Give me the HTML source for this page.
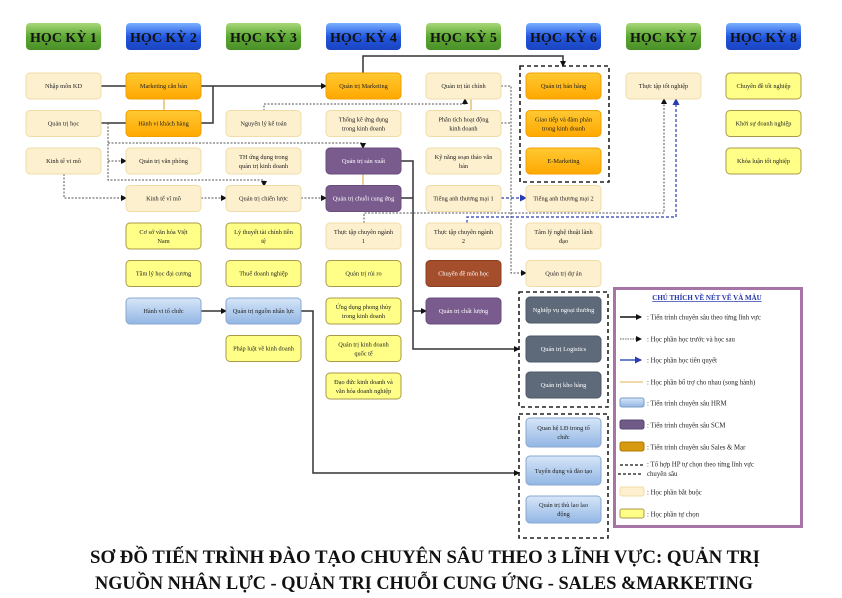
<!DOCTYPE html>
<html><head><meta charset="utf-8"><style>
html,body{margin:0;padding:0;background:#fff;}
svg{display:block;font-family:"Liberation Serif",serif;}
.t{font-size:6.3px;fill:#222;text-anchor:middle;}
.tw{font-size:6.3px;fill:#fff;text-anchor:middle;}
.h{font-size:14px;font-weight:bold;fill:#111;text-anchor:middle;}
.lg{font-size:6.8px;fill:#222;}
</style></head><body>
<svg width="842" height="598" viewBox="0 0 842 598" xmlns="http://www.w3.org/2000/svg">
<defs>
<linearGradient id="gG" x1="0" y1="0" x2="0" y2="1"><stop offset="0" stop-color="#a8d878"/><stop offset="0.5" stop-color="#5da833"/><stop offset="1" stop-color="#4a9028"/></linearGradient>
<linearGradient id="gB" x1="0" y1="0" x2="0" y2="1"><stop offset="0" stop-color="#7ab0ff"/><stop offset="0.5" stop-color="#2257e0"/><stop offset="1" stop-color="#1a44c0"/></linearGradient>
<linearGradient id="gO" x1="0" y1="0" x2="0" y2="1"><stop offset="0" stop-color="#ffc933"/><stop offset="1" stop-color="#ffa800"/></linearGradient>
<linearGradient id="gL" x1="0" y1="0" x2="0" y2="1"><stop offset="0" stop-color="#d6e6f8"/><stop offset="1" stop-color="#92b6e4"/></linearGradient>
<marker id="ak" markerWidth="6" markerHeight="6" refX="5" refY="3" orient="auto" markerUnits="userSpaceOnUse"><path d="M0,0 L6,3 L0,6 z" fill="#111"/></marker>
<marker id="ab" markerWidth="7" markerHeight="7" refX="6" refY="3.5" orient="auto" markerUnits="userSpaceOnUse"><path d="M0,0 L7,3.5 L0,7 z" fill="#2a3cb0"/></marker>
</defs>

<!-- headers -->
<g>
<rect x="26" y="23" width="75" height="27" rx="4" fill="url(#gG)"/><text class="h" x="63.5" y="42">HỌC KỲ 1</text>
<rect x="126" y="23" width="75" height="27" rx="4" fill="url(#gB)"/><text class="h" x="163.5" y="42">HỌC KỲ 2</text>
<rect x="226" y="23" width="75" height="27" rx="4" fill="url(#gG)"/><text class="h" x="263.5" y="42">HỌC KỲ 3</text>
<rect x="326" y="23" width="75" height="27" rx="4" fill="url(#gB)"/><text class="h" x="363.5" y="42">HỌC KỲ 4</text>
<rect x="426" y="23" width="75" height="27" rx="4" fill="url(#gG)"/><text class="h" x="463.5" y="42">HỌC KỲ 5</text>
<rect x="526" y="23" width="75" height="27" rx="4" fill="url(#gB)"/><text class="h" x="563.5" y="42">HỌC KỲ 6</text>
<rect x="626" y="23" width="75" height="27" rx="4" fill="url(#gG)"/><text class="h" x="663.5" y="42">HỌC KỲ 7</text>
<rect x="726" y="23" width="75" height="27" rx="4" fill="url(#gB)"/><text class="h" x="763.5" y="42">HỌC KỲ 8</text>
</g>

<!-- group boxes -->
<g fill="none" stroke="#222" stroke-width="1.6" stroke-dasharray="4,3">
<rect x="520" y="66" width="89" height="116"/>
<rect x="519" y="292" width="89" height="115"/>
<rect x="519" y="414" width="89" height="124"/>
</g>

<!-- connectors -->
<g fill="none" stroke="#e8c070" stroke-width="1.5">
<line x1="164" y1="99" x2="164" y2="111"/>
<line x1="363" y1="174" x2="363" y2="186"/>
<line x1="471" y1="99" x2="471" y2="111"/>
</g>
<g fill="none" stroke="#333" stroke-width="1.5">
<path d="M101,86 H326" marker-end="url(#ak)"/>
<path d="M101,123 H213 V86"/>
<path d="M363,73 V56 H563 V66" marker-end="url(#ak)"/>
<path d="M401,161 H413 V349 H519" marker-end="url(#ak)"/>
<path d="M401,198 H413"/>
<path d="M413,311 H426" marker-end="url(#ak)"/>
<path d="M201,311 H226" marker-end="url(#ak)"/>
<path d="M301,311 H313 V473 H519" marker-end="url(#ak)"/>
</g>
<g fill="none" stroke="#555" stroke-width="1" stroke-dasharray="2,1.5">
<path d="M101,123 H108 V180 H264 V186" marker-end="url(#ak)"/>
<path d="M108,143 H363 V148" marker-end="url(#ak)"/>
<path d="M108,161 H126" marker-end="url(#ak)"/>
<path d="M64,174 V198 H126" marker-end="url(#ak)"/>
<path d="M201,198 H226" marker-end="url(#ak)"/>
<path d="M301,198 H326" marker-end="url(#ak)"/>
<path d="M264,111 V104 H465 V99" marker-end="url(#ak)"/>
<path d="M501,86 H511 V273 H526" marker-end="url(#ak)"/>
<path d="M501,123 H511"/>
<path d="M364,223 V213 H664 V99" marker-end="url(#ak)"/>
</g>
<g fill="none" stroke="#2a3cb0" stroke-width="1.2" stroke-dasharray="3,2">
<path d="M501,198 H526" marker-end="url(#ab)"/>
<path d="M467,223 V217 H676 V99" marker-end="url(#ab)"/>
</g>

<!-- nodes -->
<g stroke-width="1">
<!-- col1 -->
<rect x="26" y="73" width="75" height="26" rx="4" fill="#fdf0cf" stroke="#f0dca8"/><text class="t" x="63.5" y="88">Nhập môn KD</text>
<rect x="26" y="110.5" width="75" height="26" rx="4" fill="#fdf0cf" stroke="#f0dca8"/><text class="t" x="63.5" y="125.5">Quản trị học</text>
<rect x="26" y="148" width="75" height="26" rx="4" fill="#fdf0cf" stroke="#f0dca8"/><text class="t" x="63.5" y="163">Kinh tế vi mô</text>
<!-- col2 -->
<rect x="126" y="73" width="75" height="26" rx="4" fill="url(#gO)" stroke="#f0a000"/><text class="t" x="163.5" y="88">Marketing căn bản</text>
<rect x="126" y="110.5" width="75" height="26" rx="4" fill="url(#gO)" stroke="#f0a000"/><text class="t" x="163.5" y="125.5">Hành vi khách hàng</text>
<rect x="126" y="148" width="75" height="26" rx="4" fill="#fdf0cf" stroke="#f0dca8"/><text class="t" x="163.5" y="163">Quản trị văn phòng</text>
<rect x="126" y="185.5" width="75" height="26" rx="4" fill="#fdf0cf" stroke="#f0dca8"/><text class="t" x="163.5" y="200.5">Kinh tế vĩ mô</text>
<rect x="126" y="223" width="75" height="26" rx="4" fill="#ffff88" stroke="#a89a48"/><text class="t" x="163.5" y="234">Cơ sở văn hóa Việt</text><text class="t" x="163.5" y="243">Nam</text>
<rect x="126" y="260.5" width="75" height="26" rx="4" fill="#ffff88" stroke="#a89a48"/><text class="t" x="163.5" y="275.5">Tâm lý học đại cương</text>
<rect x="126" y="298" width="75" height="26" rx="4" fill="url(#gL)" stroke="#8aa8d0"/><text class="t" x="163.5" y="313">Hành vi tổ chức</text>
<!-- col3 -->
<rect x="226" y="110.5" width="75" height="26" rx="4" fill="#fdf0cf" stroke="#f0dca8"/><text class="t" x="263.5" y="125.5">Nguyên lý kế toán</text>
<rect x="226" y="148" width="75" height="26" rx="4" fill="#fdf0cf" stroke="#f0dca8"/><text class="t" x="263.5" y="159">TH ứng dụng trong</text><text class="t" x="263.5" y="168">quản trị kinh doanh</text>
<rect x="226" y="185.5" width="75" height="26" rx="4" fill="#fdf0cf" stroke="#f0dca8"/><text class="t" x="263.5" y="200.5">Quản trị chiến lược</text>
<rect x="226" y="223" width="75" height="26" rx="4" fill="#ffff88" stroke="#a89a48"/><text class="t" x="263.5" y="234">Lý thuyết tài chính tiền</text><text class="t" x="263.5" y="243">tệ</text>
<rect x="226" y="260.5" width="75" height="26" rx="4" fill="#ffff88" stroke="#a89a48"/><text class="t" x="263.5" y="275.5">Thuế doanh nghiệp</text>
<rect x="226" y="298" width="75" height="26" rx="4" fill="url(#gL)" stroke="#8aa8d0"/><text class="t" x="263.5" y="313">Quản trị nguồn nhân lực</text>
<rect x="226" y="335.5" width="75" height="26" rx="4" fill="#ffff88" stroke="#a89a48"/><text class="t" x="263.5" y="350.5">Pháp luật về kinh doanh</text>
<!-- col4 -->
<rect x="326" y="73" width="75" height="26" rx="4" fill="url(#gO)" stroke="#f0a000"/><text class="t" x="363.5" y="88">Quản trị Marketing</text>
<rect x="326" y="110.5" width="75" height="26" rx="4" fill="#fdf0cf" stroke="#f0dca8"/><text class="t" x="363.5" y="121.5">Thống kê ứng dụng</text><text class="t" x="363.5" y="130.5">trong kinh doanh</text>
<rect x="326" y="148" width="75" height="26" rx="4" fill="#7a5b8e" stroke="#6a4c7e"/><text class="tw" x="363.5" y="163">Quản trị sản xuất</text>
<rect x="326" y="185.5" width="75" height="26" rx="4" fill="#7a5b8e" stroke="#6a4c7e"/><text class="tw" x="363.5" y="200.5">Quản trị chuỗi cung ứng</text>
<rect x="326" y="223" width="75" height="26" rx="4" fill="#fdf0cf" stroke="#f0dca8"/><text class="t" x="363.5" y="234">Thực tập chuyên ngành</text><text class="t" x="363.5" y="243">1</text>
<rect x="326" y="260.5" width="75" height="26" rx="4" fill="#ffff88" stroke="#a89a48"/><text class="t" x="363.5" y="275.5">Quản trị rủi ro</text>
<rect x="326" y="298" width="75" height="26" rx="4" fill="#ffff88" stroke="#a89a48"/><text class="t" x="363.5" y="309">Ứng dụng phong thủy</text><text class="t" x="363.5" y="318">trong kinh doanh</text>
<rect x="326" y="335.5" width="75" height="26" rx="4" fill="#ffff88" stroke="#a89a48"/><text class="t" x="363.5" y="346.5">Quản trị kinh doanh</text><text class="t" x="363.5" y="355.5">quốc tế</text>
<rect x="326" y="373" width="75" height="26" rx="4" fill="#ffff88" stroke="#a89a48"/><text class="t" x="363.5" y="384">Đạo đức kinh doanh và</text><text class="t" x="363.5" y="393">văn hóa doanh nghiệp</text>
<!-- col5 -->
<rect x="426" y="73" width="75" height="26" rx="4" fill="#fdf0cf" stroke="#f0dca8"/><text class="t" x="463.5" y="88">Quản trị tài chính</text>
<rect x="426" y="110.5" width="75" height="26" rx="4" fill="#fdf0cf" stroke="#f0dca8"/><text class="t" x="463.5" y="121.5">Phân tích hoạt động</text><text class="t" x="463.5" y="130.5">kinh doanh</text>
<rect x="426" y="148" width="75" height="26" rx="4" fill="#fdf0cf" stroke="#f0dca8"/><text class="t" x="463.5" y="159">Kỹ năng soạn thảo văn</text><text class="t" x="463.5" y="168">bản</text>
<rect x="426" y="185.5" width="75" height="26" rx="4" fill="#fdf0cf" stroke="#f0dca8"/><text class="t" x="463.5" y="200.5">Tiếng anh thương mại 1</text>
<rect x="426" y="223" width="75" height="26" rx="4" fill="#fdf0cf" stroke="#f0dca8"/><text class="t" x="463.5" y="234">Thực tập chuyên ngành</text><text class="t" x="463.5" y="243">2</text>
<rect x="426" y="260.5" width="75" height="26" rx="4" fill="#a54e2c" stroke="#8a3e20"/><text class="tw" x="463.5" y="275.5">Chuyên đề môn học</text>
<rect x="426" y="298" width="75" height="26" rx="4" fill="#7a5b8e" stroke="#6a4c7e"/><text class="tw" x="463.5" y="313">Quản trị chất lượng</text>
<!-- col6 -->
<rect x="526" y="73" width="75" height="26" rx="4" fill="url(#gO)" stroke="#f0a000"/><text class="t" x="563.5" y="88">Quản trị bán hàng</text>
<rect x="526" y="110.5" width="75" height="26" rx="4" fill="url(#gO)" stroke="#f0a000"/><text class="t" x="563.5" y="121.5">Giao tiếp và đàm phán</text><text class="t" x="563.5" y="130.5">trong kinh doanh</text>
<rect x="526" y="148" width="75" height="26" rx="4" fill="url(#gO)" stroke="#f0a000"/><text class="t" x="563.5" y="163">E-Marketing</text>
<rect x="526" y="185.5" width="75" height="26" rx="4" fill="#fdf0cf" stroke="#f0dca8"/><text class="t" x="563.5" y="200.5">Tiếng anh thương mại 2</text>
<rect x="526" y="223" width="75" height="26" rx="4" fill="#fdf0cf" stroke="#f0dca8"/><text class="t" x="563.5" y="234">Tâm lý nghệ thuật lãnh</text><text class="t" x="563.5" y="243">đạo</text>
<rect x="526" y="260.5" width="75" height="26" rx="4" fill="#fdf0cf" stroke="#f0dca8"/><text class="t" x="563.5" y="275.5">Quản trị dự án</text>
<rect x="526" y="297" width="75" height="26" rx="4" fill="#5e6a7a" stroke="#4e5a6a"/><text class="tw" x="563.5" y="312">Nghiệp vụ ngoại thương</text>
<rect x="526" y="336" width="75" height="26" rx="4" fill="#5e6a7a" stroke="#4e5a6a"/><text class="tw" x="563.5" y="351">Quản trị Logistics</text>
<rect x="526" y="372" width="75" height="26" rx="4" fill="#5e6a7a" stroke="#4e5a6a"/><text class="tw" x="563.5" y="387">Quản trị kho hàng</text>
<rect x="526" y="418" width="75" height="29" rx="4" fill="url(#gL)" stroke="#8aa8d0"/><text class="t" x="563.5" y="430">Quan hệ LĐ trong tổ</text><text class="t" x="563.5" y="439">chức</text>
<rect x="526" y="456" width="75" height="29" rx="4" fill="url(#gL)" stroke="#8aa8d0"/><text class="t" x="563.5" y="473">Tuyển dụng và đào tạo</text>
<rect x="526" y="496" width="75" height="27" rx="4" fill="url(#gL)" stroke="#8aa8d0"/><text class="t" x="563.5" y="507">Quản trị thù lao lao</text><text class="t" x="563.5" y="516">động</text>
<!-- col7/8 -->
<rect x="626" y="73" width="75" height="26" rx="4" fill="#fdf0cf" stroke="#f0dca8"/><text class="t" x="663.5" y="88">Thực tập tốt nghiệp</text>
<rect x="726" y="73" width="75" height="26" rx="4" fill="#ffff88" stroke="#a89a48"/><text class="t" x="763.5" y="88">Chuyên đề tốt nghiệp</text>
<rect x="726" y="110.5" width="75" height="26" rx="4" fill="#ffff88" stroke="#a89a48"/><text class="t" x="763.5" y="125.5">Khởi sự doanh nghiệp</text>
<rect x="726" y="148" width="75" height="26" rx="4" fill="#ffff88" stroke="#a89a48"/><text class="t" x="763.5" y="163">Khóa luận tốt nghiệp</text>
</g>

<!-- legend -->
<rect x="614.5" y="288.5" width="187" height="238" fill="#fff" stroke="#a675a6" stroke-width="3"/>
<text x="707" y="300" font-size="7" font-weight="bold" fill="#2233aa" text-anchor="middle" text-decoration="underline">CHÚ THÍCH VỀ NÉT VẼ VÀ MÀU</text>
<line x1="707" y1="301.5" x2="655" y2="301.5" stroke="#2233aa" stroke-width="0"/>
<path d="M620,317 H641" stroke="#111" stroke-width="1.5" marker-end="url(#ak)"/>
<text class="lg" x="647" y="319.5">: Tiến trình chuyên sâu theo từng lĩnh vực</text>
<path d="M620,339 H641" stroke="#333" stroke-width="0.8" stroke-dasharray="1.5,1" marker-end="url(#ak)"/>
<text class="lg" x="647" y="341.5">: Học phần học trước và học sau</text>
<path d="M620,360 H641" stroke="#5570c8" stroke-width="1.8" marker-end="url(#ab)"/>
<text class="lg" x="647" y="362.5">: Học phần học tiên quyết</text>
<line x1="620" y1="382" x2="643" y2="382" stroke="#e0b050" stroke-width="1"/>
<text class="lg" x="647" y="384.5">: Học phần bổ trợ cho nhau (song hành)</text>
<rect x="620" y="398" width="24" height="9" rx="2" fill="url(#gL)" stroke="#7a9cc6"/>
<text class="lg" x="647" y="405.5">: Tiến trình chuyên sâu HRM</text>
<rect x="620" y="420" width="24" height="9" rx="2" fill="#6f5a88" stroke="#5a4870"/>
<text class="lg" x="647" y="427.5">: Tiến trình chuyên sâu SCM</text>
<rect x="620" y="442" width="24" height="9" rx="2" fill="#d69a10" stroke="#b07a00"/>
<text class="lg" x="647" y="449.5">: Tiến trình chuyên sâu Sales &amp; Mar</text>
<line x1="620" y1="465" x2="643" y2="465" stroke="#111" stroke-width="1.2" stroke-dasharray="3,2"/>
<line x1="618" y1="474" x2="643" y2="474" stroke="#111" stroke-width="1.2" stroke-dasharray="3,2"/>
<text class="lg" x="647" y="466.5">: Tổ hợp HP tự chọn theo từng lĩnh vực</text>
<text class="lg" x="647" y="476">chuyên sâu</text>
<rect x="620" y="487" width="24" height="9" rx="2" fill="#fdf0cf" stroke="#f0dca8"/>
<text class="lg" x="647" y="494.5">: Học phần bắt buộc</text>
<rect x="620" y="509" width="24" height="9" rx="2" fill="#ffff88" stroke="#a89a48"/>
<text class="lg" x="647" y="516.5">: Học phần tự chọn</text>

<!-- title -->
<text x="425" y="563" font-size="18.5" font-weight="bold" fill="#111" text-anchor="middle" textLength="670" lengthAdjust="spacingAndGlyphs">SƠ ĐỒ TIẾN TRÌNH ĐÀO TẠO CHUYÊN SÂU THEO 3 LĨNH VỰC: QUẢN TRỊ</text>
<text x="424" y="589" font-size="18.5" font-weight="bold" fill="#111" text-anchor="middle" textLength="658" lengthAdjust="spacingAndGlyphs">NGUỒN NHÂN LỰC - QUẢN TRỊ CHUỖI CUNG ỨNG - SALES &amp;MARKETING</text>
</svg>
</body></html>
